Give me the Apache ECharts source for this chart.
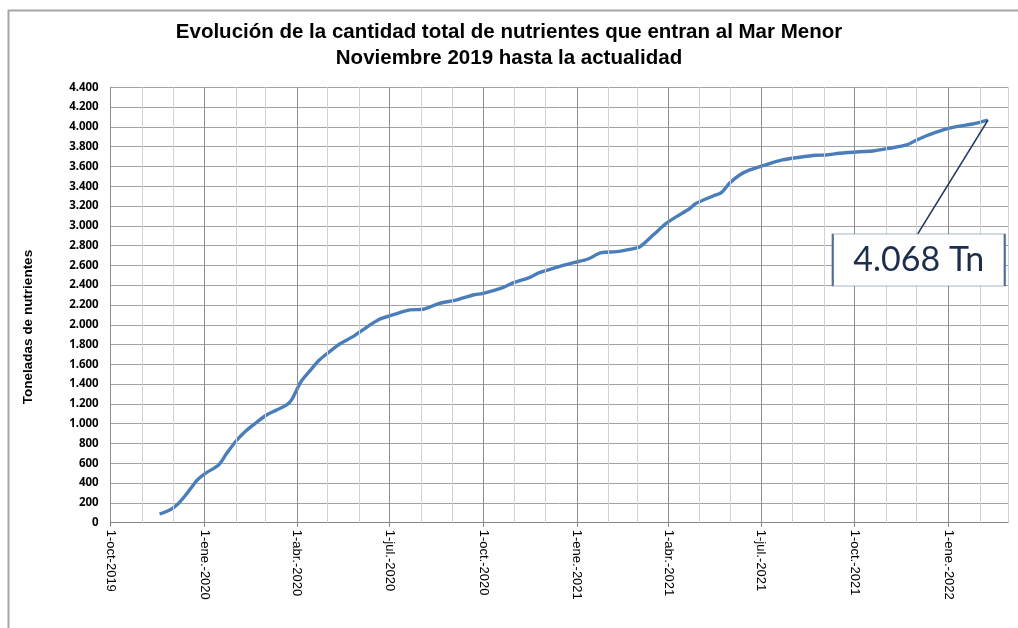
<!DOCTYPE html>
<html>
<head>
<meta charset="utf-8">
<script src="https://cdn.jsdelivr.net/npm/echarts@6/dist/echarts.min.js"></script>
<style>
  html, body { margin: 0; padding: 0; background: #fff; }
  #chart { width: 1018px; height: 628px; }
</style>
</head>
<body>
<div id="chart"></div>
<script>
// ---- Data ----
const dates = [
  '2019-11-18','2019-11-28','2019-12-06','2019-12-15','2019-12-25',
  '2020-01-02','2020-01-15','2020-01-23','2020-02-02','2020-02-10',
  '2020-02-18','2020-03-02','2020-03-12','2020-03-22','2020-03-27',
  '2020-04-05','2020-04-13','2020-04-23','2020-05-03','2020-05-13',
  '2020-05-26','2020-06-02','2020-06-21','2020-07-04','2020-07-21',
  '2020-08-03','2020-08-19','2020-09-05','2020-09-21','2020-10-01',
  '2020-10-21','2020-10-31','2020-11-16','2020-11-25','2020-12-12',
  '2020-12-29','2021-01-12','2021-01-25','2021-02-09','2021-02-22',
  '2021-03-04','2021-03-17','2021-03-30','2021-04-09','2021-04-22',
  '2021-04-28','2021-05-15','2021-05-23','2021-05-31','2021-06-10',
  '2021-06-20','2021-07-03','2021-07-22','2021-08-08','2021-08-24',
  '2021-09-03','2021-09-16','2021-10-06','2021-10-19','2021-11-04',
  '2021-11-21','2021-12-01','2021-12-10','2021-12-27','2022-01-09',
  '2022-01-25','2022-02-09'
];
const values = [
  88, 128, 189, 297, 431,
  499, 583, 701, 836, 920,
  987, 1088, 1139, 1190, 1247,
  1425, 1526, 1644, 1728, 1806,
  1880, 1930, 2055, 2099, 2150,
  2157, 2217, 2251, 2301, 2318,
  2379, 2426, 2480, 2527, 2581,
  2628, 2665, 2729, 2739, 2763,
  2789, 2907, 3026, 3093, 3175,
  3225, 3302, 3335, 3430, 3514,
  3565, 3608, 3666, 3693, 3713,
  3716, 3733, 3749, 3756, 3784,
  3817, 3868, 3908, 3969, 4002,
  4029, 4068
];
const tickDates = ['2019-10-01','2020-01-01','2020-04-01','2020-07-01','2020-10-01',
                   '2021-01-01','2021-04-01','2021-07-01','2021-10-01','2022-01-01'];
const tickLabels = ['1-oct-2019','1-ene.-2020','1-abr.-2020','1-jul.-2020','1-oct.-2020',
                    '1-ene.-2021','1-abr.-2021','1-jul.-2021','1-oct.-2021','1-ene.-2022'];
const xMin = '2019-10-01';
const xMax = '2022-03-01';
const yMax = 4400;
const yStep = 200;
const titleText = 'Evolución de la cantidad total de nutrientes que entran al Mar Menor\nNoviembre 2019 hasta la actualidad';
const yTitle = 'Toneladas de nutrientes';
const annotationText = '4.068 Tn';
const annotationFrom = ['2021-12-02', 2918];
const annotationBox = ['2021-12-03', 2655];

// ---- helpers ----
function pad(n) { return (n < 10 ? '0' : '') + n; }
function ts(s) { const p = s.split('-'); return Date.UTC(+p[0], +p[1] - 1, +p[2]); }
const labelMap = {};
tickDates.forEach((d, i) => { labelMap[ts(d)] = tickLabels[i]; });

// monthly grid lines (quarters darker)
const monthLines = [];
{
  let y = 2019, m = 10;
  while (y < 2022 || (y === 2022 && m <= 3)) {
    const d = y + '-' + pad(m) + '-01';
    const quarter = (m - 1) % 3 === 0;
    monthLines.push({
      xAxis: ts(d),
      lineStyle: { color: quarter ? '#8c8c8c' : '#d2d2d2', width: 1, type: 'solid' }
    });
    m++; if (m > 12) { m = 1; y++; }
  }
}

const seriesData = dates.map((d, i) => [ts(d), values[i]]);
const lastPoint = seriesData[seriesData.length - 1];

const chart = echarts.init(document.getElementById('chart'), null, { renderer: 'canvas' });
chart.setOption({
  animation: false,
  backgroundColor: '#ffffff',
  title: {
    text: titleText,
    left: 'center',
    top: 19,
    padding: 0,
    textStyle: {
      fontFamily: 'Liberation Sans',
      fontWeight: 'bold',
      fontSize: 20.5,
      lineHeight: 26,
      color: '#000'
    }
  },
  grid: { left: 110.7, right: 9.7, top: 87.3, bottom: 105.3, containLabel: false },
  xAxis: {
    type: 'value',
    min: ts(xMin),
    max: ts(xMax),
    splitLine: { show: false },
    axisLine: { show: true, lineStyle: { color: '#868686', width: 1 } },
    axisTick: { show: true, customValues: tickDates.map(ts), length: 4, lineStyle: { color: '#868686' } },
    axisLabel: {
      customValues: tickDates.map(ts),
      rotate: -90,
      margin: 7,
      fontFamily: 'Liberation Sans',
      fontSize: 13,
      color: '#000',
      formatter: function (v) { return labelMap[v] || ''; }
    }
  },
  yAxis: {
    type: 'value',
    min: 0,
    max: yMax,
    interval: yStep,
    axisLine: { show: true, lineStyle: { color: '#868686' } },
    axisTick: { show: false },
    splitLine: { show: true, lineStyle: { color: '#a3a3a3', width: 1 } },
    axisLabel: {
      margin: 12,
      fontFamily: 'Noto Sans',
      fontWeight: 'bold',
      fontSize: 11.5,
      color: '#000',
      formatter: function (v) { return String(v).replace(/\B(?=(\d{3})+(?!\d))/g, '.'); }
    }
  },
  graphic: [
    { type: 'line', shape: { x1: 8, y1: 10.5, x2: 1018, y2: 10.5 }, style: { stroke: '#a6a6a6', lineWidth: 2 }, silent: true },
    { type: 'line', shape: { x1: 8.5, y1: 10, x2: 8.5, y2: 628 }, style: { stroke: '#a6a6a6', lineWidth: 2 }, silent: true },
    {
      type: 'text', x: 28, y: 327, rotation: Math.PI / 2,
      style: {
        text: yTitle, textAlign: 'center', textVerticalAlign: 'middle',
        font: 'bold 13.5px "Liberation Sans"', fill: '#000'
      },
      silent: true
    }
  ],
  series: [
    {
      name: 'grid',
      type: 'line',
      data: [],
      z: 1,
      silent: true,
      markLine: {
        silent: true,
        symbol: ['none', 'none'],
        label: { show: false },
        animation: false,
        data: monthLines
      }
    },
    {
      name: 'Nutrientes',
      type: 'line',
      data: seriesData,
      z: 3,
      smooth: 0.3,
      showSymbol: false,
      symbol: 'none',
      lineStyle: { color: '#4a7ebb', width: 3.4 },
      itemStyle: { color: '#4a7ebb' },
      markLine: {
        silent: true,
        symbol: ['none', 'arrow'],
        symbolSize: [0, 11],
        label: { show: false },
        lineStyle: { color: '#1f3a5f', width: 1.6, type: 'solid' },
        data: [[
          { coord: [ts(annotationFrom[0]), annotationFrom[1]] },
          { coord: lastPoint }
        ]]
      },
      markPoint: {
        silent: true,
        symbol: 'rect',
        symbolSize: [172, 52],
        itemStyle: { color: '#ffffff', borderColor: '#4f6e9e', borderWidth: 1.2 },
        label: {
          show: true,
          position: 'inside',
          formatter: annotationText,
          fontFamily: 'Lato',
          fontSize: 34,
          color: '#1c2e4c'
        },
        data: [{ coord: [ts(annotationBox[0]), annotationBox[1]] }]
      }
    }
  ]
});
</script>
</body>
</html>
